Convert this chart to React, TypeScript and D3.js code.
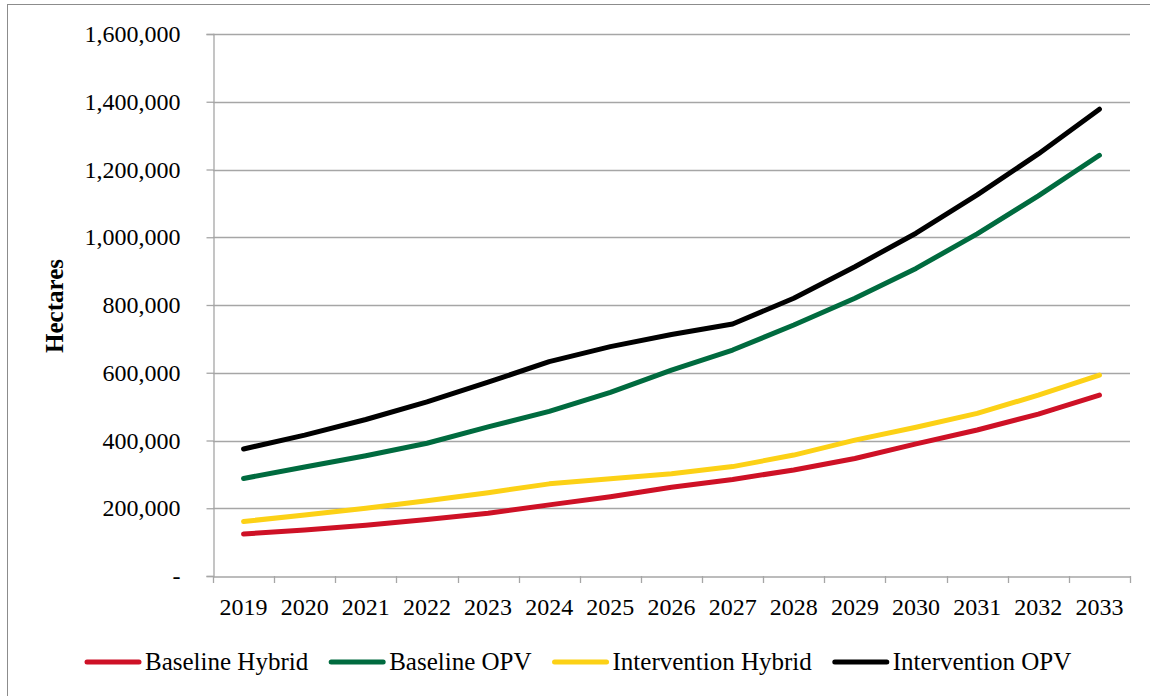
import React, { useEffect, useRef } from 'react';
import * as d3 from 'd3';

const years = ['2019', '2020', '2021', '2022', '2023', '2024', '2025', '2026', '2027', '2028', '2029', '2030', '2031', '2032', '2033'];

const baselineHybrid = [124000, 136000, 150000, 167000, 185000, 210000, 234000, 262000, 285000, 313000, 347000, 390000, 431000, 478000, 534000];
const baselineOPV = [288000, 322000, 355000, 392000, 440000, 486000, 542000, 608000, 667000, 741000, 820000, 908000, 1010000, 1122000, 1242000];
const interventionHybrid = [161000, 180000, 200000, 222000, 246000, 272000, 287000, 302000, 323000, 357000, 401000, 439000, 480000, 534000, 593000];
const interventionOPV = [375000, 416000, 462000, 514000, 572000, 633000, 677000, 713000, 744000, 820000, 913000, 1012000, 1125000, 1246000, 1378000];

const seriesNames = ['Baseline Hybrid', 'Baseline OPV', 'Intervention Hybrid', 'Intervention OPV'];
const seriesColors = ['#CE1126', '#006B3F', '#FCD116', '#000000'];
const yTicks = [0, 200000, 400000, 600000, 800000, 1000000, 1200000, 1400000, 1600000];

const FONT = '"Liberation Serif", "Times New Roman", serif';

const App = () => {
  const ref = useRef<SVGSVGElement>(null);

  useEffect(() => {
    const svg = d3.select(ref.current);
    svg.selectAll('*').remove();

    const left = 213, right = 1130, top = 34, bottom = 576;

    // outer chart border (only left/top visible in frame)
    svg.append('rect')
      .attr('x', 7.5).attr('y', 4.5)
      .attr('width', 1160).attr('height', 720)
      .attr('fill', '#fff')
      .attr('stroke', '#8c8c8c');

    const x = d3.scaleBand().domain(years).range([left, right]);
    const y = d3.scaleLinear().domain([0, 1600000]).range([bottom, top]);

    // gridlines
    svg.append('g')
      .selectAll('line')
      .data(yTicks.filter(d => d > 0))
      .enter()
      .append('line')
      .attr('x1', left).attr('x2', right)
      .attr('y1', d => Math.round(y(d)) + 0.5)
      .attr('y2', d => Math.round(y(d)) + 0.5)
      .attr('stroke', '#a6a6a6')
      .attr('stroke-width', 1.3);

    // y axis
    const yAxis = svg.append('g')
      .attr('transform', `translate(${left + 0.5},0)`)
      .call(d3.axisLeft(y).tickValues(yTicks).tickSizeOuter(0).tickSize(7).tickPadding(26)
        .tickFormat(d => (d === 0 ? '-' : d3.format(',')(d as number))));
    yAxis.select('.domain').attr('stroke', '#a6a6a6').attr('stroke-width', 1.3);
    yAxis.selectAll('.tick line').attr('stroke', '#a6a6a6').attr('stroke-width', 1.3);
    yAxis.selectAll('text')
      .attr('font-family', FONT)
      .attr('font-size', 24)
      .attr('fill', '#000');

    // x axis
    const xAxis = svg.append('g')
      .attr('transform', `translate(0,${Math.round(bottom) + 0.5})`)
      .call(d3.axisBottom(x).tickSize(0).tickPadding(21));
    xAxis.select('.domain').attr('stroke', '#a6a6a6').attr('stroke-width', 1.3);
    xAxis.selectAll('text')
      .attr('font-family', FONT)
      .attr('font-size', 24)
      .attr('fill', '#000');

    // category boundary ticks
    const bounds = years.map(d => x(d) as number).concat([right]);
    svg.append('g')
      .selectAll('line')
      .data(bounds)
      .enter()
      .append('line')
      .attr('x1', d => Math.round(d) + 0.5).attr('x2', d => Math.round(d) + 0.5)
      .attr('y1', bottom).attr('y2', bottom + 7)
      .attr('stroke', '#a6a6a6')
      .attr('stroke-width', 1.3);

    // y title
    svg.append('text')
      .attr('transform', `translate(63,306) rotate(-90)`)
      .attr('text-anchor', 'middle')
      .attr('font-family', FONT)
      .attr('font-weight', 'bold')
      .attr('font-size', 25)
      .text('Hectares');

    // lines
    const allSeries = [baselineHybrid, baselineOPV, interventionHybrid, interventionOPV];
    const line = d3.line<number>()
      .x((_, i) => (x(years[i]) as number) + x.bandwidth() / 2)
      .y(d => y(d));

    svg.append('g')
      .selectAll('path')
      .data(allSeries)
      .enter()
      .append('path')
      .attr('d', d => line(d))
      .attr('fill', 'none')
      .attr('stroke', (_, i) => seriesColors[i])
      .attr('stroke-width', 5)
      .attr('stroke-linecap', 'round')
      .attr('stroke-linejoin', 'round');

    // legend
    const legend = svg.append('g').attr('transform', 'translate(0,662)');
    let cursor = 85;
    seriesNames.forEach((name, i) => {
      legend.append('line')
        .attr('x1', cursor + 2).attr('x2', cursor + 54)
        .attr('y1', 0).attr('y2', 0)
        .attr('stroke', seriesColors[i])
        .attr('stroke-width', 5)
        .attr('stroke-linecap', 'round');
      const t = legend.append('text')
        .attr('x', cursor + 60)
        .attr('y', 7.5)
        .attr('font-family', FONT)
        .attr('font-size', 25)
        .text(name);
      const w = (t.node() as SVGTextElement).getComputedTextLength();
      cursor += 60 + w + 21;
    });
  }, []);

  return (
    <svg ref={ref} width={1150} height={696} style={{ position: 'absolute', left: 0, top: 0 }} />
  );
};

export default App;
